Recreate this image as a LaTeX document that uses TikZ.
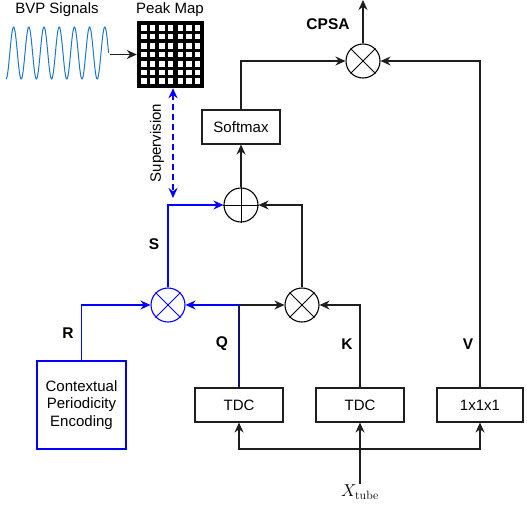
\documentclass[tikz,border=0pt]{standalone}
\usepackage{amsmath}
\usepackage[no-math]{fontspec}
\setmainfont{Liberation Sans}
\usepackage{xcolor}
\usepackage{tikz}
\usetikzlibrary{arrows.meta}
\definecolor{wavecol}{RGB}{31,119,200}
\definecolor{superblue}{RGB}{0,0,255}
\definecolor{qnavy}{RGB}{20,20,110}
\definecolor{linecol}{RGB}{30,30,30}
\tikzset{
  caption/.style={font=\fontsize{15}{17}\selectfont,inner sep=1pt},
  tag/.style={font=\fontsize{15.5}{17}\selectfont\bfseries,inner sep=1pt},
  block/.style={draw=linecol,line width=1.1pt,minimum width=88pt,minimum height=34pt,
    inner sep=1pt,font=\fontsize{15}{17.5}\selectfont,align=center,fill=white},
  opnode/.style={circle,draw=black,line width=1.1pt,minimum size=34pt,inner sep=0pt},
  link/.style={-{Stealth[length=10pt,width=9pt]},line width=1.1pt,draw=linecol},
  bluelink/.style={-{Stealth[length=10pt,width=9pt]},line width=1.2pt,draw=superblue},
  supervise/.style={{Stealth[length=10pt,width=9pt]}-{Stealth[length=10pt,width=9pt]},
    line width=1.6pt,draw=superblue,dash pattern=on 6pt off 4pt},
  wave/.style={line width=1pt,wavecol}
}

\begin{document}
\begin{tikzpicture}[x=1pt,y=-1pt]
  \useasboundingbox (0,0) rectangle (527,509);

  \node[caption] (bvp) at (57,10) {BVP Signals};
  \node[caption] (peaklbl) at (170,10) {Peak Map};
  \draw[wave] plot[domain=6:108.6,samples=240] (\x,{53+26*cos(23.684*(\x-6))});
  \coordinate (wave) at (110,54.5);
  \node[fill=black,minimum size=67pt,inner sep=0pt] (peak) at (170.5,54.5) {};
  \foreach \u in {144,152.5,162,170.5,180.5,189,197.5}
    \foreach \v in {28,36.5,46,54.5,64,72.5,81}
      \fill[white] (\u-2.8,\v-2.8) rectangle +(5.6,5.6);
  \draw[link] (wave) -- (peak.west);

  \coordinate (supB) at (173,198);
  \draw[supervise] (supB |- peak.south) -- (supB);
  \node[caption,rotate=90] (suplbl) at (157,143) {Supervision};

  \node[opnode,draw=superblue] (mulS) at (168,305) {};
  \node[opnode] (mulK) at (302,305) {};
  \node[opnode] (addS) at (241,205) {};
  \node[opnode] (mulV) at (363,61) {};
  \foreach \n/\c in {mulS/superblue,mulK/black,mulV/black}
    \draw[\c,line width=1pt] (\n.north west) -- (\n.south east) (\n.north east) -- (\n.south west);
  \draw[line width=1pt] (addS.north) -- (addS.south) (addS.west) -- (addS.east);

  \node[block,minimum width=78pt] (soft) at (241,127) {Softmax};
  \node[block] (tdcQ) at (239,405) {TDC};
  \node[block] (tdcK) at (360,405) {TDC};
  \node[block,minimum width=86pt] (conv) at (480,405) {1x1x1};
  \node[block,draw=superblue,minimum width=89pt,minimum height=88pt] (cpe) at (81.5,405)
    {Contextual\\Periodicity\\Encoding};
  \node[font=\fontsize{17}{19}\selectfont,inner sep=1pt] (xtube) at (360,492) {$X_{\mathrm{tube}}$};

  \draw[bluelink] (cpe.north) |- (mulS.west);
  \coordinate (qsplit) at (tdcQ.north |- mulS);
  \draw[qnavy,line width=1.2pt] (tdcQ.north) -- (qsplit);
  \draw[bluelink] (qsplit) -- (mulS.east);
  \draw[link] (qsplit) -- (mulK.west);
  \draw[link] (tdcK.north) |- (mulK.east);
  \draw[link] (mulK.north) |- (addS.east);
  \draw[bluelink] (mulS.north) |- (addS.west);
  \draw[link] (addS.north) -- (soft.south);
  \draw[link] (soft.north) |- (mulV.west);
  \draw[link] (conv.north) |- (mulV.east);
  \coordinate (out) at (363,0);
  \draw[link] (mulV.north) -- (out);

  \coordinate (xsplit) at (360,449);
  \draw[link] (xtube.north) -- (tdcK.south);
  \draw[link] (xsplit) -| (tdcQ.south);
  \draw[link] (xsplit) -| (conv.south);

  \node[tag] (lblR) at (68,333) {R};
  \node[tag] (lblQ) at (222,344) {Q};
  \node[tag] (lblK) at (347,344) {K};
  \node[tag] (lblV) at (468,344) {V};
  \node[tag] (lblS) at (154,244) {S};
  \node[tag] (lblC) at (328,24) {CPSA};
\end{tikzpicture}
\end{document}
